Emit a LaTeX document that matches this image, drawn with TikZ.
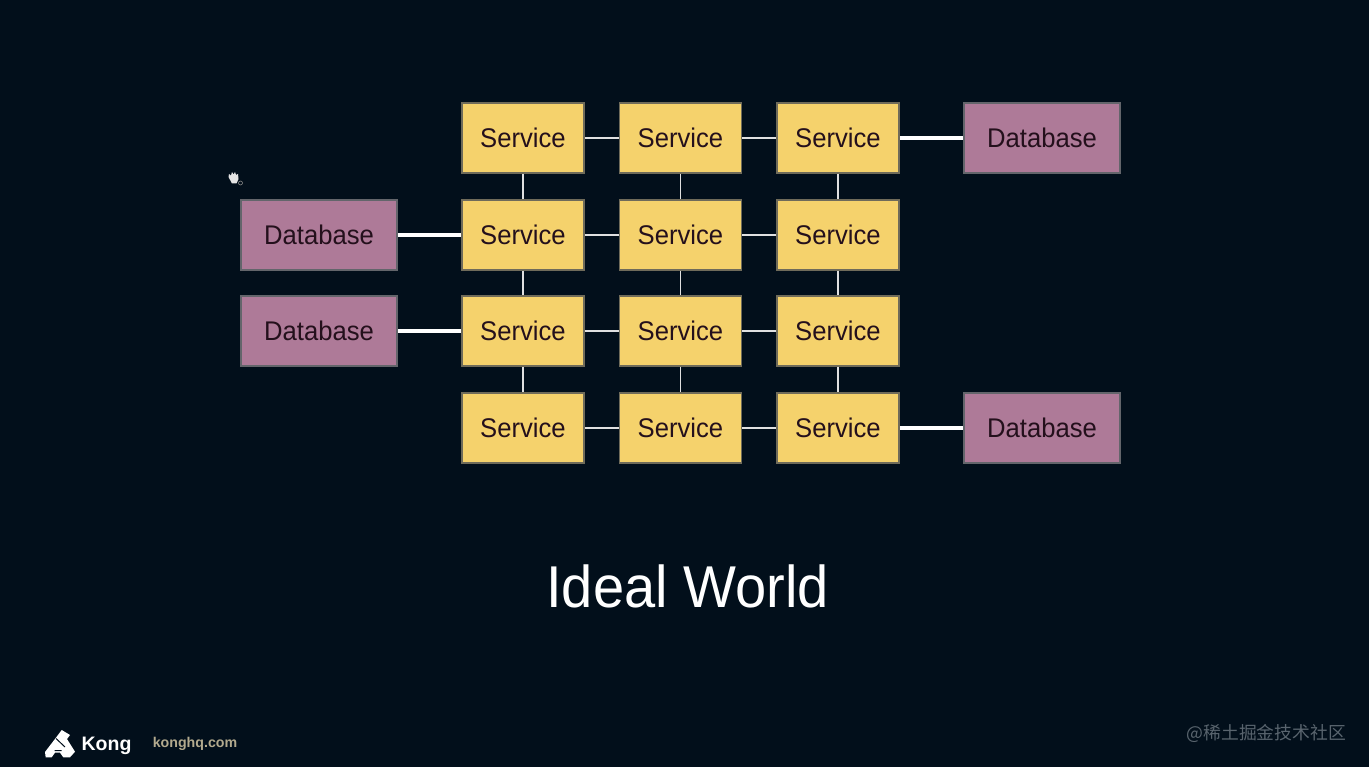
\documentclass[tikz,border=0pt]{standalone}
\usepackage{fontspec}
\setmainfont{Liberation Sans}
\newfontfamily\slidefont[FakeStretch=0.95]{Liberation Sans}
\newfontfamily\cjkfont{Noto Sans CJK SC}
\definecolor{slidebg}{HTML}{020F1B}
\definecolor{svcfill}{HTML}{F5D26C}
\definecolor{dbfill}{HTML}{AE7A98}
\definecolor{svcedge}{HTML}{6F6B5A}
\definecolor{dbedge}{HTML}{63656B}
\definecolor{inktext}{HTML}{24101C}
\definecolor{urltext}{HTML}{B3AA8E}
\definecolor{marktext}{HTML}{59646E}
\tikzset{
  svc/.style={draw=svcedge,line width=1.5pt,fill=svcfill,minimum width=122pt,minimum height=70pt,inner sep=0pt,text height=20pt,text depth=0pt,text=inktext,font=\slidefont\fontsize{27}{30}\selectfont},
  dbase/.style={svc,draw=dbedge,fill=dbfill,minimum width=156pt},
  thin link/.style={draw=white!88!black,line width=1.7pt},
  thick link/.style={draw=white,line width=4.6pt}
}
\begin{document}
\begin{tikzpicture}[x=1pt,y=-1pt]
\useasboundingbox (0,0) rectangle (1369,767);
\fill[slidebg] (0,0) rectangle (1369,767);
% service grid
\foreach \c/\x in {1/523,2/680.5,3/838}
  \foreach \r/\y in {1/138,2/235,3/331,4/428}
    \node[svc] (s\r\c) at (\x,\y) {Service};
% databases
\node[dbase] (d1) at (1042,138) {Database};
\node[dbase] (d2) at (319,235) {Database};
\node[dbase] (d3) at (319,331) {Database};
\node[dbase] (d4) at (1042,428) {Database};
% grid links
\foreach \r in {1,2,3,4} {
  \draw[thin link] (s\r1) -- (s\r2);
  \draw[thin link] (s\r2) -- (s\r3);
}
\foreach \c in {1,2,3} {
  \draw[thin link] (s1\c) -- (s2\c);
  \draw[thin link] (s2\c) -- (s3\c);
  \draw[thin link] (s3\c) -- (s4\c);
}
% database links
\draw[thick link] (s13) -- (d1);
\draw[thick link] (d2) -- (s21);
\draw[thick link] (d3) -- (s31);
\draw[thick link] (s43) -- (d4);
% caption
\node[text=white,font=\slidefont\fontsize{59}{62}\selectfont,inner sep=0pt] (title) at (687.5,586) {Ideal World};
% pointer cursor
\fill[white!90!black] (228.5,177) -- (229,174) -- (231,175.5) -- (232,172) -- (233.5,174.5) -- (235,172) -- (236,175) -- (238,174) -- (238.5,179) -- (236.5,183.5) -- (232,183.5) -- cycle;
\draw[white!55!black,line width=.6pt] (240.5,183) circle (2);
% logo
\fill[white] (45,752) -- (56.7,736.7) -- (61.7,730) -- (70,735) -- (67,739) -- (75,751.7) -- (70,757.3) -- (63.3,757.3) -- (60,752.7) -- (55,752.7) -- (51.7,757.3) -- (45.7,757.3) -- cycle;
\draw[slidebg,line width=1pt] (56,738.5) -- (65,747) (54.5,750.7) -- (61.5,750.7);
\node[text=white,font=\fontsize{19.5}{22}\selectfont\bfseries,inner sep=0pt] (brand) at (106.5,745.5) {Kong};
\node[text=urltext,font=\fontsize{14.2}{16}\selectfont\bfseries,inner sep=0pt] (url) at (195,744) {konghq.com};
% community mark
\node[text=marktext,font=\fontsize{17.8}{20}\cjkfont,inner sep=0pt,anchor=east] (mark) at (1346,733.5) {@稀土掘金技术社区};
\end{tikzpicture}
\end{document}
